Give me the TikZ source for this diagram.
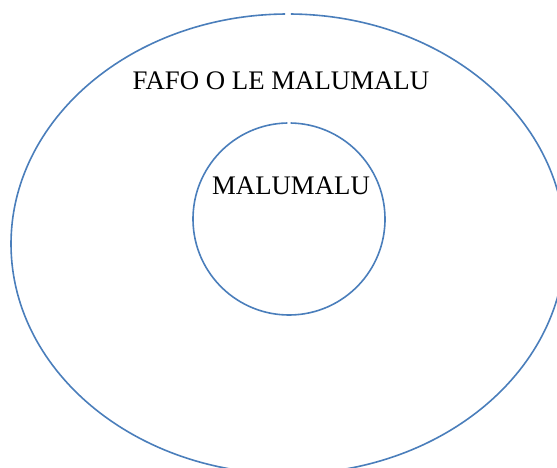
\documentclass[tikz,border=0pt]{standalone}
\usepackage{fontspec}
\setmainfont{Liberation Serif}
\usetikzlibrary{positioning}
\definecolor{ringc}{HTML}{4A7EBB}
\tikzset{
  ring/.style={draw=ringc,line width=1.6pt},
  lbl/.style={font=\fontsize{26.8}{30}\selectfont,inner sep=0pt}
}
\begin{document}
\begin{tikzpicture}[x=1pt,y=1pt]
\useasboundingbox (0,0) rectangle (557,468);
\clip (0,0) rectangle (557,468);
% outer ring
\draw[ring] (288,224) ++(90.6:277 and 230) arc[start angle=90.6,end angle=449.4,x radius=277,y radius=230];
% inner ring
\draw[ring] (289,249) ++(91:96) arc[start angle=91,end angle=449,radius=96];
\node[lbl] (outer) at (281,387) {FAFO O LE MALUMALU};
\node[lbl] (inner) at (291,282) {MALUMALU};
\end{tikzpicture}
\end{document}
